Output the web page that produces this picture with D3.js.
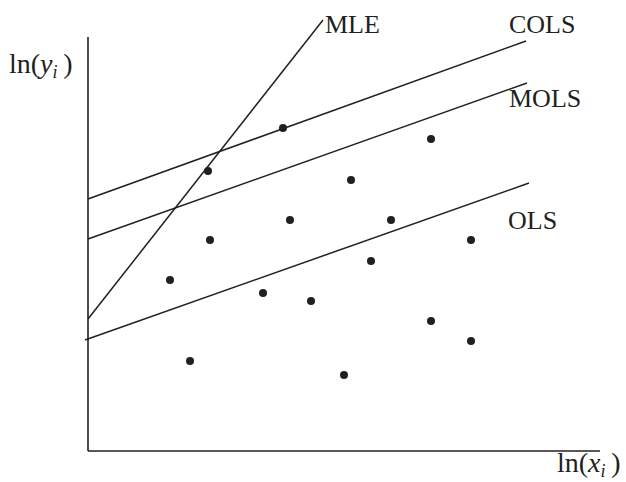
<!DOCTYPE html>
<html><head><meta charset="utf-8">
<script src="https://cdn.jsdelivr.net/npm/d3@7"></script>
<style>body{margin:0;background:#fff}</style>
</head><body>
<svg id="c" width="626" height="482"></svg>
<script>
// data (arbitrary log units)
const pointsX = [12.0, 19.5, 12.2, 20.2, 26.3, 30.3, 34.3, 38.3, 8.2, 17.5, 22.3, 28.3, 34.3, 38.3, 10.2, 25.6];
const pointsY = [28.0, 32.3, 21.1, 23.1, 27.1, 23.1, 31.2, 21.1, 17.1, 15.8, 15.0, 19.0, 13.0, 11.0, 9.0, 7.6];
const lineNames = ["COLS", "MOLS", "OLS", "MLE"];
const lineX0 = [0, 0, -0.3, 0];
const lineY0 = [25.2, 21.2, 11.1, 13.2];
const lineX1 = [43.8, 43.9, 44.1, 23.5];
const lineY1 = [41.0, 36.8, 26.8, 43.1];
const labelX = [42.1, 42.1, 42.0, 23.7];
const labelY = [41.8, 34.4, 22.2, 41.8];

const svg = d3.select("#c");
const x = d3.scaleLinear().domain([0, 51.2]).range([88, 600]);
const y = d3.scaleLinear().domain([0, 41.4]).range([451, 37]);
const ink = "#231f20";
const serif = "Liberation Serif, Times New Roman, serif";

// axes
svg.append("line").attr("x1", x(0)).attr("x2", x(0)).attr("y1", y(41.4)).attr("y2", y(0))
  .attr("stroke", ink).attr("stroke-width", 1.6);
svg.append("line").attr("x1", x(0)).attr("x2", x(51.2)).attr("y1", y(0)).attr("y2", y(0))
  .attr("stroke", ink).attr("stroke-width", 1.6);

// lines
lineNames.forEach((n, i) => {
  svg.append("line")
    .attr("x1", x(lineX0[i])).attr("y1", y(lineY0[i]))
    .attr("x2", x(lineX1[i])).attr("y2", y(lineY1[i]))
    .attr("stroke", ink).attr("stroke-width", 1.5);
  svg.append("text").attr("x", x(labelX[i])).attr("y", y(labelY[i]))
    .attr("font-family", serif)
    .attr("font-size", 26).attr("fill", ink).text(n);
});

// points
svg.selectAll("circle.p").data(pointsX).enter().append("circle")
  .attr("cx", (d) => x(d)).attr("cy", (d, i) => y(pointsY[i])).attr("r", 4).attr("fill", ink);

// axis labels
function axisLabel(px, py, v) {
  const t = svg.append("text").attr("x", px).attr("y", py)
    .attr("font-family", serif)
    .attr("font-size", 28).attr("fill", ink);
  t.append("tspan").text("ln(");
  t.append("tspan").attr("font-style", "italic").text(v);
  t.append("tspan").attr("font-style", "italic").attr("font-size", 18).attr("dy", 5).text("i");
  t.append("tspan").attr("dy", -5).text("\u2009)");
}
axisLabel(9, 73, "y");
axisLabel(557, 472, "x");
</script>
</body></html>
